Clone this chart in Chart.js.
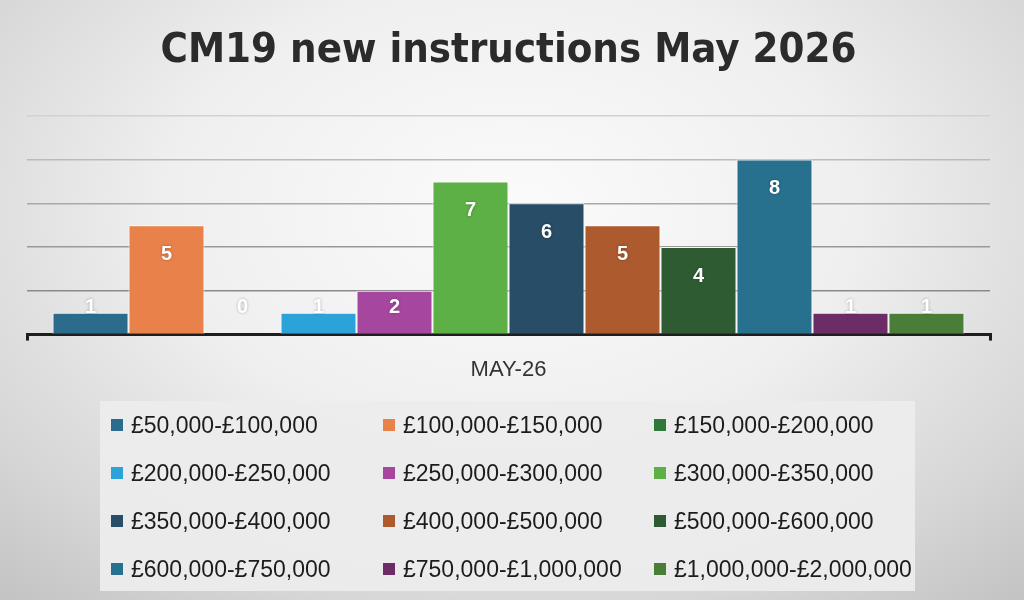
<!DOCTYPE html>
<html>
<head>
<meta charset="utf-8">
<script src="https://cdn.jsdelivr.net/npm/chart.js@4.4.1/dist/chart.umd.min.js"></script>
<style>
  html, body { margin: 0; padding: 0; }
  body {
    width: 1024px; height: 600px; overflow: hidden; position: relative;
    background: radial-gradient(ellipse 75% 85% at 50% 35%, #fbfbfb 0%, #efefef 45%, #d6d6d6 80%, #c4c4c4 100%);
  }
  #wrap { position: absolute; left: 0; top: 0; width: 1024px; height: 600px; }
  #legend {
    position: absolute; left: 100px; top: 401px; width: 815px; height: 190px;
    background: rgba(236,236,236,0.95);
    display: grid; grid-template-columns: 272px 271px 272px; grid-auto-rows: 48px;
    font-family: "Liberation Sans", Arial, sans-serif; font-size: 23px; color: #1c1c1c;
  }
  .item { display: flex; align-items: center; padding-left: 11px; white-space: nowrap; }
  .sw { width: 12px; height: 12px; margin-right: 8px; flex: none; }
</style>
</head>
<body>
<div id="wrap"><canvas id="mycanvas" width="1024" height="600"></canvas></div>
<div id="legend"></div>
<script>
var categories = ["MAY-26"];
var bands = [
  "£50,000-£100,000", "£100,000-£150,000", "£150,000-£200,000",
  "£200,000-£250,000", "£250,000-£300,000", "£300,000-£350,000",
  "£350,000-£400,000", "£400,000-£500,000", "£500,000-£600,000",
  "£600,000-£750,000", "£750,000-£1,000,000", "£1,000,000-£2,000,000"
];
var counts = [1, 5, 0, 1, 2, 7, 6, 5, 4, 8, 1, 1];
var colours = [
  "#2b6c8c", "#e9824a", "#2f7a3b", "#2ba3d9", "#a6479f", "#5db045",
  "#284d66", "#ad5a2f", "#2e5b32", "#27718f", "#6c2c66", "#4a7d38"
];

var datasets = [];
for (var i in bands) {
  datasets.push({
    label: bands[i],
    data: [counts[i]],
    backgroundColor: colours[i],
    borderColor: "rgba(255,255,255,0.85)",
    borderWidth: { top: 1, left: 1, right: 1, bottom: 0 },
    categoryPercentage: 0.947,
    barPercentage: 1
  });
}

// white value labels, near the top of each bar
var valueLabels = {
  id: "valueLabels",
  afterDatasetsDraw: function(chart) {
    var ctx = chart.ctx;
    var base = chart.scales.y.getPixelForValue(0);
    ctx.save();
    ctx.font = "bold 20px 'Liberation Sans', Arial, sans-serif";
    ctx.fillStyle = "#ffffff";
    ctx.textAlign = "center";
    ctx.textBaseline = "middle";
    ctx.shadowColor = "rgba(0,0,0,0.3)";
    ctx.shadowBlur = 3;
    chart.data.datasets.forEach(function(ds, i) {
      var el = chart.getDatasetMeta(i).data[0];
      var y = Math.min(el.y + 29, base - 27);
      ctx.fillText(String(ds.data[0]), el.x, y);
    });
    ctx.restore();
  }
};

var gridColours = { 2: "#8a8a8a", 4: "#999999", 6: "#a9a9a9", 8: "#bbbbbb", 10: "#d2d2d2" };

var ctx = document.getElementById("mycanvas");
var barGraph = new Chart(ctx, {
  type: "bar",
  data: { labels: categories, datasets: datasets },
  plugins: [valueLabels],
  options: {
    responsive: false,
    animation: false,
    layout: { padding: { left: 27, right: 34, top: 0, bottom: 201 } },
    plugins: {
      legend: { display: false },
      tooltip: { enabled: false },
      title: {
        display: true,
        text: "CM19 new instructions May 2026",
        color: "#2b2b2b",
        font: { family: "'Liberation Sans Narrow', 'DejaVu Sans Condensed', sans-serif", size: 41.5, weight: "bold" },
        padding: { top: 26, bottom: 40 }
      }
    },
    scales: {
      y: {
        min: 0, max: 10,
        ticks: { display: false, stepSize: 2 },
        border: { display: false },
        grid: {
          drawTicks: false,
          lineWidth: 1.5,
          color: function(c) { return gridColours[c.tick.value] || "rgba(0,0,0,0)"; }
        }
      },
      x: {
        border: { display: true, color: "#1e1e1e", width: 3 },
        grid: { drawOnChartArea: false, drawTicks: true, tickLength: 6, color: "#1e1e1e", lineWidth: 3 },
        ticks: { color: "#333333", padding: 16, font: { family: "'Liberation Sans', Arial, sans-serif", size: 22 } }
      }
    }
  }
});

var legend = document.getElementById("legend");
for (var j in bands) {
  var item = document.createElement("div");
  item.className = "item";
  var sw = document.createElement("span");
  sw.className = "sw";
  sw.style.background = colours[j];
  item.appendChild(sw);
  item.appendChild(document.createTextNode(bands[j]));
  legend.appendChild(item);
}
</script>
</body>
</html>
